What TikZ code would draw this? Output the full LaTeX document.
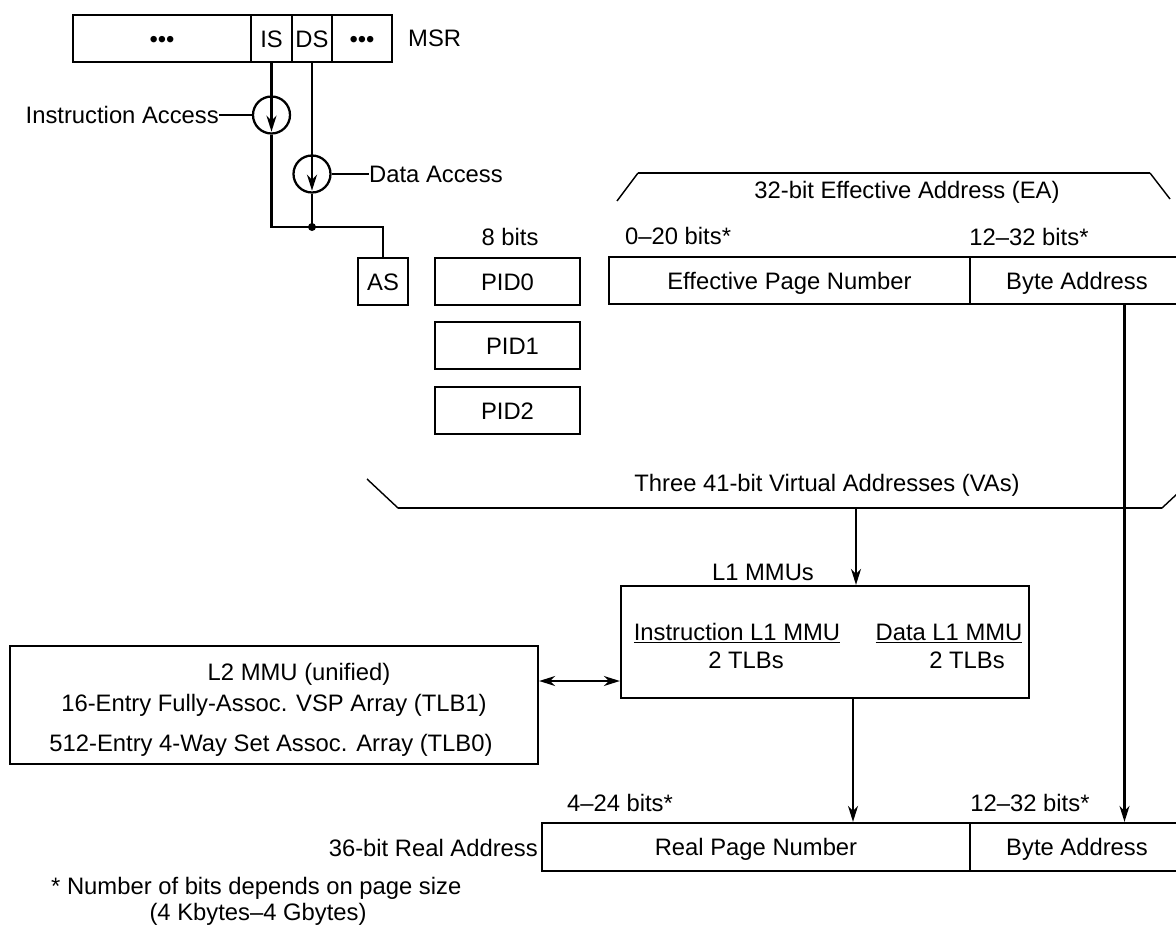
\documentclass[tikz,border=0pt]{standalone}
\usepackage{fontspec}
\setmainfont{Liberation Sans}
\usetikzlibrary{arrows.meta}

\tikzset{
	cell/.style={draw, line width=0.8mm, inner sep=0pt, text height=17pt, text depth=0pt, minimum height=47pt},
	lbl/.style={inner sep=0pt, text height=17pt, text depth=0pt},
	wire/.style={line width=0.8mm},
	slant/.style={line width=0.5mm},
	arr/.style={wire, -{Stealth[length=16pt, width=10pt]}},
	dblarr/.style={wire, {Stealth[length=16pt, width=10pt]}-{Stealth[length=16pt, width=10pt]}},
	swtch/.style={circle, draw, line width=0.8mm, minimum size=37pt, inner sep=0pt}
}

\begin{document}
\begin{tikzpicture}[x=1pt, y=-1pt, font=\fontsize{23.8}{28}\selectfont]
			%%%%% START %%%%%
			\useasboundingbox (0,0) rectangle (1176,926);
			
			% MSR register
			\node[cell, minimum width=178pt] (msra) at (162,38.5) {•••};
			\node[cell, minimum width=41pt] (msris) at (271.5,38.5) {IS};
			\node[cell, minimum width=40pt] (msrds) at (312,38.5) {DS};
			\node[cell, minimum width=60pt] (msrb) at (362,38.5) {•••};
			\node[lbl, anchor=west] (msr) at (408,38) {MSR};
			
			% access switches
			\node[swtch] (isw) at (271.5,115) {};
			\node[swtch] (dsw) at (312,174) {};
			\node[lbl, anchor=east] (iacc) at (219,115) {Instruction Access};
			\node[lbl, anchor=west] (dacc) at (369,174) {Data Access};
			\draw[wire] (iacc.east) -- (isw.west);
			\draw[wire] (dsw.east) -- (dacc.west);
			\draw[wire] (msris.south) -- (isw.north);
			\draw[arr] (isw.north) -- ([yshift=3pt]isw.south);
			\draw[wire] (msrds.south) -- (dsw.north);
			\draw[arr] (dsw.north) -- ([yshift=3pt]dsw.south);
			
			% AS and PIDs
			\node[cell, minimum width=50pt] (as) at (383,281.5) {AS};
			\node[lbl] (pidw) at (510,237) {8 bits};
			\node[cell, minimum width=145pt] (pid0) at (507.5,281.5) {PID0};
			\node[cell, minimum width=145pt] (pid1) at (507.5,345.5) {\hspace*{10pt}PID1};
			\node[cell, minimum width=145pt] (pid2) at (507.5,410.5) {PID2};
			
			\coordinate (jn) at (312,227);
			\draw[wire] (isw.south) |- (jn) -| (as.north);
			\draw[wire] (dsw.south) -- (jn);
			\fill (jn) circle (4pt);
			
			% effective address
			\draw[slant] (617,201) -- (638,173);
			\draw[wire] (638,173) -- (1150,173);
			\draw[slant] (1150,173) -- (1170,199);
			\node[lbl] (ea) at (907,190) {32-bit Effective Address (EA)};
			\node[lbl, anchor=west] (epnw) at (625,236) {0--20 bits*};
			\node[lbl] (ebaw) at (1029,237) {12--32 bits*};
			\node[cell, minimum width=361pt] (epn) at (789.5,280.5) {Effective Page Number};
			\node[cell, minimum width=214pt] (eba) at (1077,280.5) {Byte Address};
			
			% virtual addresses
			\draw[slant] (367,479) -- (398,508);
			\draw[wire] (398,508) -- (1162,508);
			\draw[slant] (1162,508) -- (1193,479);
			\node[lbl] (va) at (827,483) {Three 41-bit Virtual Addresses (VAs)};
			
			% L1 and L2 MMUs
			\node[draw, line width=0.8mm, minimum width=408pt, minimum height=112pt] (l1) at (825,642) {};
			\node[lbl] (l1t) at (763,572) {L1 MMUs};
			\node[lbl] (il1) at (737,632) {\underline{Instruction L1 MMU}};
			\node[lbl] (il1n) at (746,660) {2 TLBs};
			\node[lbl] (dl1) at (949,632) {\underline{Data L1 MMU}};
			\node[lbl] (dl1n) at (967,660) {2 TLBs};
			
			\node[draw, line width=0.8mm, minimum width=528pt, minimum height=118pt] (l2) at (274,705) {};
			\node[lbl] (l2t) at (299,672) {L2 MMU (unified)};
			\node[lbl] (tlb1) at (274,703) {16-Entry Fully-Assoc. VSP Array (TLB1)};
			\node[lbl] (tlb0) at (271,743) {512-Entry 4-Way Set Assoc. Array (TLB0)};
			
			% real address
			\node[lbl] (rpnw) at (620,803) {4--24 bits*};
			\node[lbl] (rbaw) at (1030,803) {12--32 bits*};
			\node[cell, minimum width=428pt, minimum height=48pt] (rpn) at (756,847) {Real Page Number};
			\node[cell, minimum width=214pt, minimum height=48pt] (rba) at (1077,847) {Byte Address};
			\node[lbl, anchor=east] (ra) at (538,848) {36-bit Real Address};
			
			% connectors
			\coordinate (vx) at (856,508);
			\coordinate (lk) at (0,681);
			\coordinate (rx) at (853,0);
			\coordinate (bx) at (1124.5,0);
			\draw[arr] (vx) -- (vx |- l1.north);
			\draw[dblarr] (l2.east |- lk) -- (l1.west |- lk);
			\draw[arr] (rx |- l1.south) -- (rx |- rpn.north);
			\draw[arr] (bx |- eba.south) -- (bx |- rba.north);
			
			% note
			\node[lbl, anchor=west] (note) at (51,886) {* Number of bits depends on page size};
			\node[lbl] (note2) at (258,912) {(4 Kbytes--4 Gbytes)};
			%%%%% END %%%%%
\end{tikzpicture}
\end{document}
